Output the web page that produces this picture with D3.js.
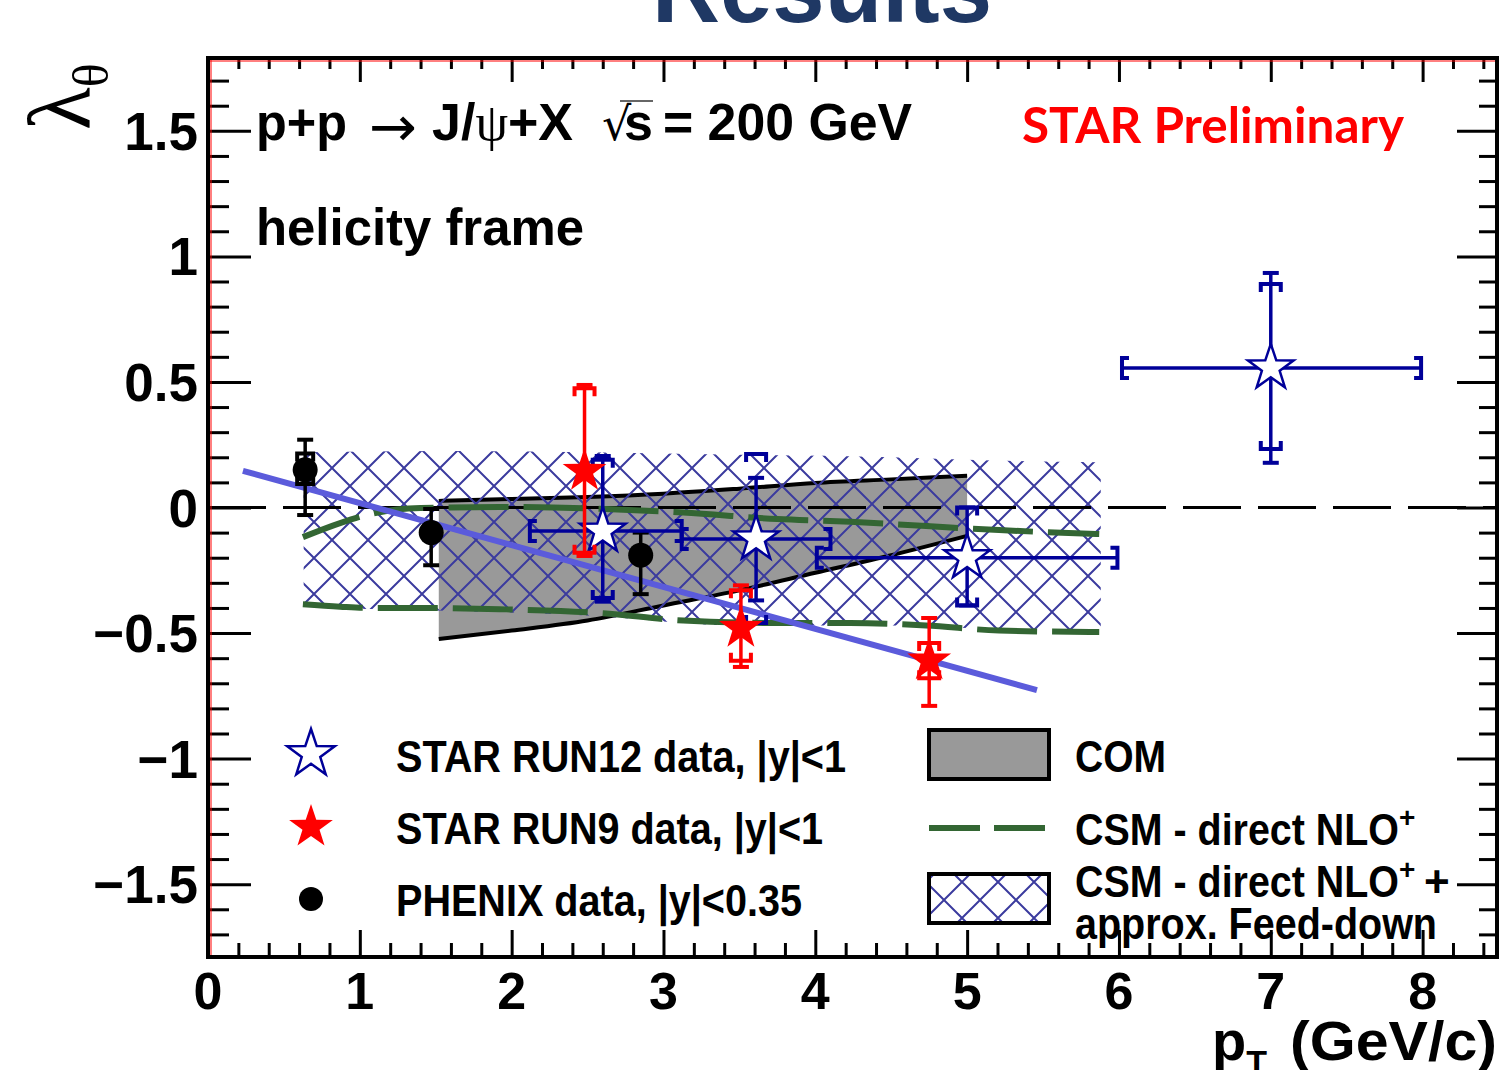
<!DOCTYPE html>
<html>
<head>
<meta charset="utf-8">
<script src="https://cdn.jsdelivr.net/npm/d3@7"></script>
<style>
body { margin: 0; background: #fff; }
text { font-family: "Liberation Sans", Arial, Helvetica, sans-serif; font-weight: bold; }
</style>
</head>
<body>
<svg id="chart" width="1502" height="1070"></svg>
<script>

// STAR RUN12 data (open stars), x bin edges and stat / sys bounds
var run12X = [2.60, 3.61, 5.00, 7.00];
var run12XLo = [2.12, 3.12, 4.01, 6.02];
var run12XHi = [3.12, 4.10, 5.99, 7.99];
var run12Y = [-0.094, -0.125, -0.20, 0.556];
var run12StatLo = [-0.375, -0.37, -0.39, 0.178];
var run12StatHi = [0.205, 0.118, 0.0, 0.934];
var run12SysLo = [-0.36, -0.46, -0.39, 0.233];
var run12SysHi = [0.19, 0.213, 0.0, 0.89];

// STAR RUN9 data (filled stars)
var run9X = [2.48, 3.51, 4.75];
var run9Y = [0.145, -0.48, -0.61];
var run9StatLo = [-0.193, -0.635, -0.79];
var run9StatHi = [0.488, -0.31, -0.44];
var run9SysLo = [-0.18, -0.61, -0.68];
var run9SysHi = [0.475, -0.33, -0.54];

// PHENIX data
var phenixX = [0.64, 1.47, 2.85];
var phenixY = [0.15, -0.10, -0.19];
var phenixStatLo = [-0.03, -0.23, -0.345];
var phenixStatHi = [0.27, -0.006, -0.10];
var phenixSysLo = [0.094, -0.115, -0.205];
var phenixSysHi = [0.215, -0.085, -0.175];

// COM band
var comX = [1.52, 2.0, 2.5, 3.0, 3.5, 4.0, 4.5, 5.0];
var comHi = [0.026, 0.034, 0.042, 0.055, 0.075, 0.098, 0.112, 0.126];
var comLo = [-0.524, -0.49, -0.45, -0.39, -0.33, -0.26, -0.19, -0.113];

// CSM direct NLO+ (green dashed edges)
var csmX = [0.625, 0.87, 1.07, 1.40, 1.92, 2.58, 3.13, 3.75, 4.23, 4.73, 5.21, 5.87];
var csmHi = [-0.118, -0.062, -0.026, -0.002, 0.002, -0.005, -0.02, -0.046, -0.057, -0.074, -0.09, -0.106];
var csmLo = [-0.385, -0.395, -0.40, -0.40, -0.405, -0.42, -0.45, -0.46, -0.46, -0.47, -0.49, -0.496];

// CSM direct NLO+ + feed-down (hatched band)
var fdX = [0.63, 1.5, 2.5, 3.5, 4.5, 5.0, 5.88];
var fdHi = [0.22, 0.225, 0.22, 0.21, 0.20, 0.19, 0.18];
var fdLo = [-0.40, -0.41, -0.43, -0.47, -0.47, -0.48, -0.50];

// straight line fit
var fitX = [0.23, 5.46];
var fitY = [0.146, -0.727];

var xMajor = [0, 1, 2, 3, 4, 5, 6, 7, 8];
var yMajor = [-1.5, -1, -0.5, 0, 0.5, 1, 1.5];

var svg = d3.select("#chart");
var pL = 208, pR = 1497, pT = 58, pB = 957;

var x = d3.scaleLinear().domain([0, 8.49]).range([pL, pR]);
var y = d3.scaleLinear().domain([-1.79, 1.79]).range([pB, pT]);

var navy = "#000099";
var hatchColor = "#3b3b9e";
var green = "#336633";

// hatch pattern
var defs = svg.append("defs");
var pat = defs.append("pattern")
	.attr("id", "hatch")
	.attr("patternUnits", "userSpaceOnUse")
	.attr("width", 36).attr("height", 36)
	.attr("x", 8).attr("y", 0);
pat.append("path")
	.attr("d", "M-4,-4L40,40M-4,40L40,-4")
	.attr("stroke", hatchColor).attr("stroke-width", 2).attr("fill", "none");

defs.append("clipPath").attr("id", "plotclip")
	.append("rect").attr("x", pL).attr("y", pT).attr("width", pR - pL).attr("height", pB - pT);

// title, mostly cut off at the top
svg.append("text")
	.attr("x", 822).attr("y", 22)
	.attr("text-anchor", "middle")
	.attr("font-size", 100)
	.attr("textLength", 340).attr("lengthAdjust", "spacingAndGlyphs")
	.attr("fill", "#1f3864")
	.text("Results");

var plot = svg.append("g").attr("clip-path", "url(#plotclip)");

// COM band
var comData = comX.map(function (d, i) { return [d, comLo[i], comHi[i]]; });
plot.append("path")
	.datum(comData)
	.attr("d", d3.area().x(function (d) { return x(d[0]); }).y0(function (d) { return y(d[1]); }).y1(function (d) { return y(d[2]); }).curve(d3.curveMonotoneX))
	.attr("fill", "#999999");
[1, 2].forEach(function (k) {
	plot.append("path")
		.datum(comData)
		.attr("d", d3.line().x(function (d) { return x(d[0]); }).y(function (d) { return y(d[k]); }).curve(d3.curveMonotoneX))
		.attr("fill", "none").attr("stroke", "black").attr("stroke-width", 4);
});

// hatched band
var fdData = fdX.map(function (d, i) { return [d, fdLo[i], fdHi[i]]; });
plot.append("path")
	.datum(fdData)
	.attr("d", d3.area().x(function (d) { return x(d[0]); }).y0(function (d) { return y(d[1]); }).y1(function (d) { return y(d[2]); }).curve(d3.curveMonotoneX))
	.attr("fill", "url(#hatch)");

// zero line
plot.append("line")
	.attr("x1", x(0)).attr("x2", x(8.49)).attr("y1", y(0)).attr("y2", y(0))
	.attr("stroke", "black").attr("stroke-width", 3).attr("stroke-dasharray", "58,17");

// green dashed CSM curves
[csmHi, csmLo].forEach(function (arr) {
	plot.append("path")
		.datum(csmX.map(function (d, i) { return [d, arr[i]]; }))
		.attr("d", d3.line().x(function (d) { return x(d[0]); }).y(function (d) { return y(d[1]); }).curve(d3.curveMonotoneX))
		.attr("fill", "none").attr("stroke", green).attr("stroke-width", 6).attr("stroke-dasharray", "60,15");
});

// fit line
plot.append("line")
	.attr("x1", x(fitX[0])).attr("y1", y(fitY[0]))
	.attr("x2", x(fitX[1])).attr("y2", y(fitY[1]))
	.attr("stroke", "#5b5bdb").attr("stroke-width", 6);

function starPath(R) {
	var pts = [];
	for (var i = 0; i < 10; i++) {
		var r = i % 2 == 0 ? R : R * 0.39;
		var a = -Math.PI / 2 + i * Math.PI / 5;
		pts.push([r * Math.cos(a), r * Math.sin(a)]);
	}
	return "M" + pts.join("L") + "Z";
}

// vertical error with T caps (stat) and brackets (sys)
function drawErrors(g, color, xs, ys, sLo, sHi, yLo, yHi, bw) {
	xs.forEach(function (xv, i) {
		var cx = x(xv);
		g.append("line").attr("x1", cx).attr("x2", cx).attr("y1", y(sLo[i])).attr("y2", y(sHi[i]))
			.attr("stroke", color).attr("stroke-width", 3.5);
		[sLo[i], sHi[i]].forEach(function (v) {
			g.append("line").attr("x1", cx - 8).attr("x2", cx + 8).attr("y1", y(v)).attr("y2", y(v))
				.attr("stroke", color).attr("stroke-width", 4);
		});
		// sys brackets, legs point toward the point
		g.append("path")
			.attr("d", "M" + (cx - bw) + "," + (y(yHi[i]) + 8) + "V" + y(yHi[i]) + "H" + (cx + bw) + "V" + (y(yHi[i]) + 8)
				+ "M" + (cx - bw) + "," + (y(yLo[i]) - 8) + "V" + y(yLo[i]) + "H" + (cx + bw) + "V" + (y(yLo[i]) - 8))
			.attr("fill", "none").attr("stroke", color).attr("stroke-width", 4);
	});
}

var marks = svg.append("g");

// PHENIX
drawErrors(marks, "black", phenixX, phenixY, phenixStatLo, phenixStatHi, phenixSysLo, phenixSysHi, 8);
marks.selectAll(".phenix").data(phenixX).enter().append("circle")
	.attr("cx", function (d) { return x(d); })
	.attr("cy", function (d, i) { return y(phenixY[i]); })
	.attr("r", 12.5).attr("fill", "black");

// RUN12
run12X.forEach(function (xv, i) {
	var cy = y(run12Y[i]);
	var x0 = x(run12XLo[i]), x1 = x(run12XHi[i]);
	marks.append("line").attr("x1", x0).attr("x2", x1).attr("y1", cy).attr("y2", cy)
		.attr("stroke", navy).attr("stroke-width", 3.5);
	marks.append("path")
		.attr("d", "M" + (x0 + 7) + "," + (cy - 10) + "H" + x0 + "V" + (cy + 10) + "H" + (x0 + 7)
			+ "M" + (x1 - 7) + "," + (cy - 10) + "H" + x1 + "V" + (cy + 10) + "H" + (x1 - 7))
		.attr("fill", "none").attr("stroke", navy).attr("stroke-width", 4);
});
drawErrors(marks, navy, run12X, run12Y, run12StatLo, run12StatHi, run12SysLo, run12SysHi, 10);
marks.selectAll(".run12").data(run12X).enter().append("path")
	.attr("d", starPath(24))
	.attr("transform", function (d, i) { return "translate(" + x(d) + "," + y(run12Y[i]) + ")"; })
	.attr("fill", "white").attr("stroke", navy).attr("stroke-width", 2.5);

// RUN9
drawErrors(marks, "red", run9X, run9Y, run9StatLo, run9StatHi, run9SysLo, run9SysHi, 10);
marks.selectAll(".run9").data(run9X).enter().append("path")
	.attr("d", starPath(23))
	.attr("transform", function (d, i) { return "translate(" + x(d) + "," + y(run9Y[i]) + ")"; })
	.attr("fill", "red");

// axes: major and minor ticks on all four sides
var xMinor = d3.range(0, 8.5, 0.2).filter(function (d) { return Math.abs(d - Math.round(d)) > 0.01; });
var yMinor = d3.range(-1.7, 1.75, 0.1).filter(function (d) { return Math.abs(d * 2 - Math.round(d * 2)) > 0.01; });

function tickAxis(axis, vals, size, tr) {
	var g = svg.append("g").attr("transform", tr)
		.call(axis.tickValues(vals).tickSize(size).tickFormat(""));
	g.select(".domain").remove();
	g.selectAll("line").attr("stroke", "black").attr("stroke-width", 3);
	return g;
}
tickAxis(d3.axisBottom(x), xMajor, -27, "translate(0," + pB + ")");
tickAxis(d3.axisBottom(x), xMinor, -14, "translate(0," + pB + ")");
tickAxis(d3.axisTop(x), xMajor, -24, "translate(0," + pT + ")");
tickAxis(d3.axisTop(x), xMinor, -11, "translate(0," + pT + ")");
tickAxis(d3.axisLeft(y), yMajor, -43, "translate(" + pL + ",0)");
tickAxis(d3.axisLeft(y), yMinor, -21, "translate(" + pL + ",0)");
tickAxis(d3.axisRight(y), yMajor, -40, "translate(" + pR + ",0)");
tickAxis(d3.axisRight(y), yMinor, -18, "translate(" + pR + ",0)");

// tick labels
svg.append("g").selectAll("text").data(xMajor).enter().append("text")
	.attr("x", function (d) { return x(d); }).attr("y", 1009)
	.attr("text-anchor", "middle").attr("font-size", 52)
	.text(function (d) { return d; });
svg.append("g").selectAll("text").data(yMajor).enter().append("text")
	.attr("x", 198).attr("y", function (d) { return y(d) + 19; })
	.attr("text-anchor", "end").attr("font-size", 53)
	.text(function (d) { return d < 0 ? "\u2212" + Math.abs(d) : d; });

// frame
svg.append("line").attr("x1", pL + 3).attr("x2", pL + 3).attr("y1", pT).attr("y2", pB).attr("stroke", "red").attr("stroke-width", 1);
svg.append("line").attr("x1", pL).attr("x2", pR).attr("y1", pT + 3).attr("y2", pT + 3).attr("stroke", "red").attr("stroke-width", 1);
svg.append("rect").attr("x", pL).attr("y", pT).attr("width", pR - pL).attr("height", pB - pT)
	.attr("fill", "none").attr("stroke", "black").attr("stroke-width", 4);

// axis titles
var ylab = svg.append("text").attr("transform", "translate(90,130) rotate(-90)")
	.style("font-family", "'Liberation Serif', 'Times New Roman', serif").style("font-weight", "normal");
ylab.append("tspan").attr("font-size", 88).text("\u03bb");
ylab.append("tspan").attr("font-size", 50).attr("dy", 18).text("\u03b8");

var xlab = svg.append("text").attr("x", 1212).attr("y", 1060).attr("font-size", 56);
xlab.append("tspan").text("p");
xlab.append("tspan").attr("font-size", 34).attr("dy", 14).text("T");
xlab.append("tspan").attr("dy", -14).attr("x", 1290).attr("textLength", 207).attr("lengthAdjust", "spacingAndGlyphs").text("(GeV/c)");

// labels inside the frame
var head = svg.append("text").attr("y", 140).attr("font-size", 52);
head.append("tspan").attr("x", 256).attr("textLength", 91).attr("lengthAdjust", "spacingAndGlyphs").text("p+p");
head.append("tspan").attr("x", 369).attr("y", 146).style("font-weight", "normal").style("font-family", "'DejaVu Sans', sans-serif")
	.attr("font-size", 56).attr("textLength", 48).attr("lengthAdjust", "spacingAndGlyphs").text("\u2192");
head.append("tspan").attr("x", 432).attr("y", 140).text("J/");
head.append("tspan").style("font-weight", "normal").style("font-family", "'Liberation Serif', serif").text("\u03c8");
head.append("tspan").text("+X");
head.append("tspan").attr("x", 602).style("font-weight", "normal").style("font-family", "'DejaVu Sans', sans-serif").attr("font-size", 46).text("\u221a");
head.append("tspan").attr("x", 624).text("s");
head.append("tspan").attr("x", 663).attr("textLength", 249).attr("lengthAdjust", "spacingAndGlyphs").text("= 200 GeV");
svg.append("line").attr("x1", 620).attr("x2", 653).attr("y1", 101).attr("y2", 101).attr("stroke", "#666").attr("stroke-width", 2);

svg.append("text").attr("x", 256).attr("y", 245).attr("font-size", 52)
	.attr("textLength", 328).attr("lengthAdjust", "spacingAndGlyphs").text("helicity frame");

svg.append("text").attr("x", 1022).attr("y", 143).attr("font-size", 50)
	.attr("fill", "red").style("font-family", "Lato, 'Open Sans', sans-serif")
	.attr("textLength", 382).attr("lengthAdjust", "spacingAndGlyphs").text("STAR Preliminary");

// legend
var leg = svg.append("g");
leg.append("path").attr("d", starPath(25)).attr("transform", "translate(311,754)")
	.attr("fill", "white").attr("stroke", navy).attr("stroke-width", 2.5);
leg.append("path").attr("d", starPath(23)).attr("transform", "translate(311,827)").attr("fill", "red");
leg.append("circle").attr("cx", 311).attr("cy", 899).attr("r", 12).attr("fill", "black");

var legText = [
	["STAR RUN12 data, |y|<1", 772, 450],
	["STAR RUN9 data, |y|<1", 844, 427],
	["PHENIX data, |y|<0.35", 916, 406]
];
legText.forEach(function (d) {
	leg.append("text").attr("x", 396).attr("y", d[1]).attr("font-size", 44)
		.attr("textLength", d[2]).attr("lengthAdjust", "spacingAndGlyphs").text(d[0]);
});

leg.append("rect").attr("x", 929).attr("y", 730).attr("width", 120).attr("height", 49)
	.attr("fill", "#999999").attr("stroke", "black").attr("stroke-width", 4);
leg.append("line").attr("x1", 929).attr("x2", 1050).attr("y1", 828).attr("y2", 828)
	.attr("stroke", green).attr("stroke-width", 6).attr("stroke-dasharray", "51,14");
leg.append("rect").attr("x", 929).attr("y", 874).attr("width", 120).attr("height", 49)
	.attr("fill", "url(#hatch)").attr("stroke", "black").attr("stroke-width", 4);

leg.append("text").attr("x", 1075).attr("y", 772).attr("font-size", 44)
	.attr("textLength", 91).attr("lengthAdjust", "spacingAndGlyphs").text("COM");
var t1 = leg.append("text").attr("x", 1075).attr("y", 845).attr("font-size", 44);
t1.append("tspan").attr("textLength", 324).attr("lengthAdjust", "spacingAndGlyphs").text("CSM - direct NLO");
t1.append("tspan").attr("font-size", 28).attr("dy", -18).text("+");
var t2 = leg.append("text").attr("x", 1075).attr("y", 897).attr("font-size", 44);
t2.append("tspan").attr("textLength", 324).attr("lengthAdjust", "spacingAndGlyphs").text("CSM - direct NLO");
t2.append("tspan").attr("font-size", 28).attr("dy", -18).text("+");
t2.append("tspan").attr("dy", 18).attr("x", 1424).text("+");
leg.append("text").attr("x", 1075).attr("y", 939).attr("font-size", 44)
	.attr("textLength", 362).attr("lengthAdjust", "spacingAndGlyphs").text("approx. Feed-down");

</script>
</body>
</html>
